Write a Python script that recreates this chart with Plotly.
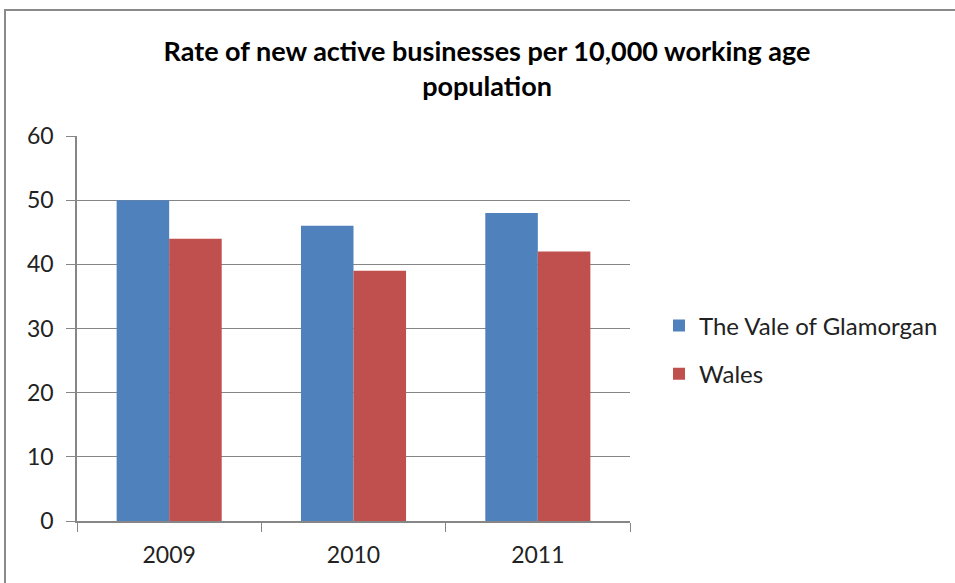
import plotly.graph_objects as go

years = ["2009", "2010", "2011"]
vale = [50, 46, 48]
wales = [44, 39, 42]
series_names = ["The Vale of Glamorgan", "Wales"]
colors = ["#4F81BD", "#C0504D"]

fig = go.Figure()
fig.add_trace(go.Bar(x=years, y=vale, name=series_names[0], marker_color=colors[0],
                     marker_line_width=0, legendgroup="a"))
fig.add_trace(go.Bar(x=years, y=wales, name=series_names[1], marker_color=colors[1],
                     marker_line_width=0, legendgroup="b"))

W, H = 955, 583
L, R, T, B = 77, 325, 136, 62
pw = W - L - R
ph = H - T - B

fig.update_layout(
    width=W, height=H,
    margin=dict(l=L, r=R, t=T, b=B, autoexpand=False),
    paper_bgcolor="white", plot_bgcolor="white",
    font=dict(family="Lato, Carlito, Calibri, sans-serif", size=23, color="#222"),
    barmode="group", bargap=0.43, bargroupgap=0,
    title=dict(
        text="<b>Rate of new active businesses per 10,000 working age<br>population</b>",
        x=(487 - L) / pw, xref="paper", xanchor="center",
        y=1 - 61 / H, yanchor="top",
        font=dict(size=27, color="#000"),
    ),
    legend=dict(
        x=(659 - L) / pw, xanchor="left", y=(H - B - 350) / ph, yanchor="middle",
        font=dict(size=24, color="#222"), itemwidth=30, tracegroupgap=14,
        traceorder="grouped",
        bgcolor="rgba(0,0,0,0)",
    ),
    xaxis=dict(
        showline=True, linecolor="#868686", linewidth=1.5,
        ticks="outside", tickson="boundaries", ticklen=9, tickcolor="#868686",
        tickfont=dict(size=23), showgrid=False, ticklabelstandoff=13,
    ),
    yaxis=dict(
        range=[0, 60], dtick=10, showline=True, linecolor="#868686", linewidth=1.5,
        ticks="outside", ticklen=9, tickcolor="#868686",
        gridcolor="#868686", gridwidth=1, zeroline=False,
        tickfont=dict(size=23), ticklabelstandoff=8,
    ),
    shapes=[dict(
        type="rect", xref="paper", yref="paper",
        x0=(5 - L) / pw, x1=2.0,
        y0=-1.0, y1=(H - B - 10) / ph,
        line=dict(color="#8a8a8a", width=2), fillcolor="rgba(0,0,0,0)", layer="below",
    )],
)

fig.write_html("out.html", config={"displayModeBar": False},
               post_script="document.body.style.margin='0';document.body.style.padding='0';")
